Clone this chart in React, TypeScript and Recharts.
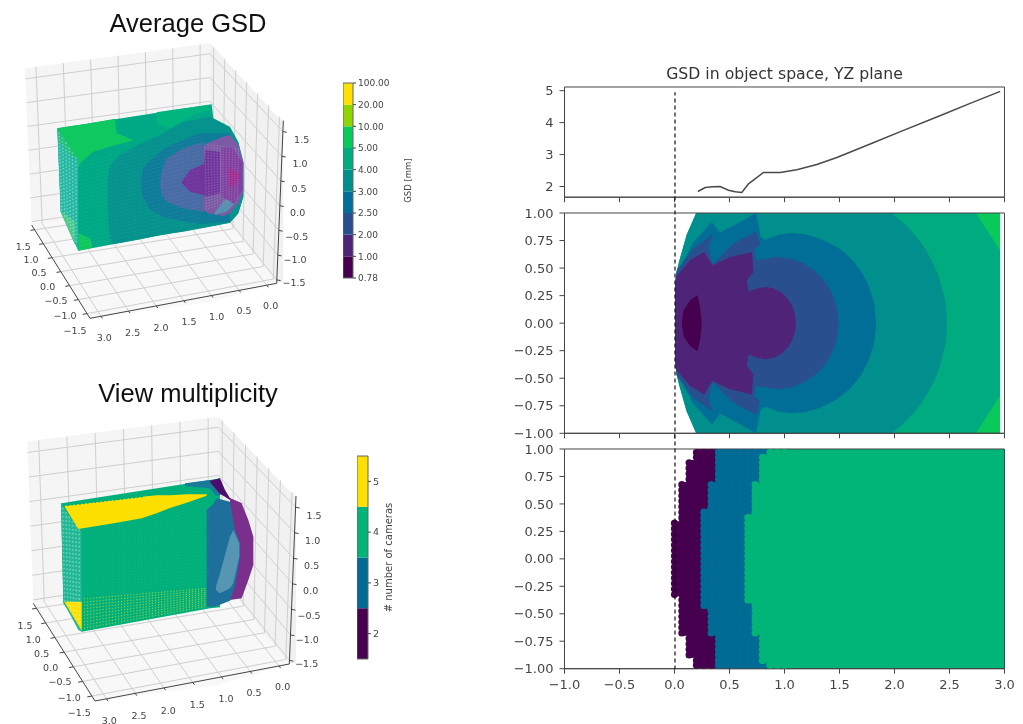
import React from "react";
import { ComposedChart, Area, Line, Scatter, XAxis, YAxis, ReferenceArea } from "recharts";

type Chain = number[][];
const MONO = "'DejaVu Sans', sans-serif";
const AX = "#444444";

// ---------- Right column data ----------
const panelXTicks = [-1, -0.5, 0, 0.5, 1, 1.5, 2, 2.5, 3];
const panelYTicks = [-1, -0.75, -0.5, -0.25, 0, 0.25, 0.5, 0.75, 1];
const profileTicks = [2, 3, 4, 5];
const profileX = [0.212, 0.279, 0.348, 0.415, 0.491, 0.552, 0.612, 0.673, 0.809, 0.961, 1.112, 1.294, 1.476, 1.779, 2.082, 2.385, 2.688, 2.961];
const profileY = [1.843, 1.969, 1.99, 2.0, 1.885, 1.833, 1.812, 2.084, 2.439, 2.439, 2.523, 2.69, 2.909, 3.33, 3.756, 4.174, 4.603, 4.979];

const C = {
  lime: "#0ac95c",
  g45: "#00ab7f",
  g34: "#008f8c",
  b253: "#006e96",
  b225: "#2a4f8e",
  p12: "#4f2378",
  dark: "#46004f",
};
// contour regions, outermost first: [x, |y| of the boundary]
const contourLime = [[2.7, 1], [2.96, 1]];
const contour45 = [[0.006, 0.33], [0.015, 0.45], [0.045, 0.57], [0.11, 0.8], [0.197, 1], [2.74, 1], [2.96, 0.66]];
const contour34 = [[0.006, 0.33], [0.015, 0.45], [0.045, 0.57], [0.11, 0.8], [0.197, 1], [1.976, 1], [2.088, 0.906], [2.173, 0.816], [2.245, 0.725], [2.303, 0.634], [2.352, 0.544], [2.391, 0.453], [2.421, 0.363], [2.445, 0.272], [2.464, 0.181], [2.473, 0.091], [2.476, 0]];
const contour253 = [[0.01, 0.4], [0.021, 0.45], [0.173, 0.737], [0.339, 0.918], [0.415, 0.822], [0.567, 0.903], [0.742, 1], [0.785, 0.782], [0.824, 0.758], [0.95, 0.805], [1.067, 0.819], [1.188, 0.808], [1.324, 0.767], [1.43, 0.716], [1.506, 0.671], [1.582, 0.607], [1.627, 0.559], [1.688, 0.48], [1.718, 0.432], [1.764, 0.341], [1.809, 0.205], [1.821, 0.145], [1.833, 0]];
const contour225 = [[0.01, 0.4], [0.021, 0.48], [0.173, 0.677], [0.348, 0.807], [0.309, 0.692], [0.345, 0.535], [0.536, 0.722], [0.742, 0.834], [0.779, 0.713], [0.727, 0.668], [0.742, 0.571], [0.93, 0.601], [1.052, 0.587], [1.173, 0.542], [1.264, 0.483], [1.324, 0.428], [1.385, 0.352], [1.43, 0.272], [1.461, 0.195], [1.482, 0.108], [1.491, 0]];
const contour12 = [[0.006, 0.33], [0.015, 0.42], [0.142, 0.571], [0.27, 0.647], [0.345, 0.526], [0.506, 0.601], [0.703, 0.647], [0.718, 0.465], [0.658, 0.39], [0.673, 0.284], [0.74, 0.312], [0.824, 0.329], [0.9, 0.317], [0.976, 0.276], [1.036, 0.214], [1.073, 0.149], [1.094, 0.083], [1.103, 0]];
const contourDark = [[0.067, 0], [0.082, 0.118], [0.142, 0.208], [0.209, 0.254], [0.233, 0.148], [0.248, 0]];
const contourLayers: [number[][], string][] = [
  [contourLime, C.lime], [contour45, C.g45], [contour34, C.g34], [contour253, C.b253],
  [contour225, C.b225], [contour12, C.p12], [contourDark, C.dark],
];

// view-count panel: starting x of the sample columns per |y| band: [|y| upper limit, x start]
const gridStepX = 0.0667;
const gridRowY = [0.025, 0.075, 0.125, 0.175, 0.225, 0.275, 0.325, 0.375, 0.425, 0.475, 0.525, 0.575, 0.625, 0.675, 0.725, 0.775, 0.825, 0.875, 0.925, 0.968];
const purpleStart = [[0.34, 0], [0.7, 0.067], [0.9, 0.133], [1, 0.2]];
const blueStart = [[0.47, 0.267], [0.7, 0.333], [1, 0.4]];
const greenStart = [[0.41, 0.667], [0.685, 0.733], [0.95, 0.8], [1, 0.867]];
const PURPLE = "#46004f", BLUE = "#006b94", GREEN = "#00b577";

const startAt = (tbl: number[][], y: number) => (tbl.find((r) => y <= r[0]) as number[])[1];
const cells = (from: number[][], to: number[][] | null) => {
  const out: { x: number; y: number }[] = [];
  for (const r of gridRowY) for (const s of [1, -1]) {
    const a = startAt(from, r), b = to ? startAt(to, r) : 1.05;
    for (let x = a; x < b - 0.001; x += gridStepX) out.push({ x, y: s * r });
  }
  return out;
};
const backing = (tbl: number[][]) => {
  const out: { x: number; band: number[] }[] = [];
  tbl.forEach((r, i) => {
    const lim = Math.min(r[0], 1);
    if (i > 0) out.push({ x: r[1], band: [-tbl[i - 1][0], tbl[i - 1][0]] });
    out.push({ x: r[1], band: [-lim, lim] });
  });
  out.push({ x: 3, band: [-1, 1] });
  return out;
};

// ---------- 3D views (image-plane coordinates, 3 units per pixel) ----------
const aLim = [-0.18, 3.2], bLim = [-1.67, 1.67], zLim = [-1.57, 1.72];
const aTicks = [0, 0.5, 1, 1.5, 2, 2.5, 3];
const bTicks = [-1.5, -1, -0.5, 0, 0.5, 1, 1.5];
const zTicks = [-1.5, -1, -0.5, 0, 0.5, 1, 1.5];
const tickTxt = (v: number) => (v < 0 ? "\u2212" : "") + Math.abs(v).toFixed(1);

const corners1 = { a1b0z0: [270, 955], a0b0z0: [830, 850], a1b1z0: [95, 675], a0b1z0: [628, 598], a1b0z1: [280, 445], a0b0z1: [850, 362], a1b1z1: [75, 205], a0b1z1: [630, 130] };
const corners2 = { a1b0z0: [285, 993], a0b0z0: [868, 882], a1b1z0: [100, 700], a0b1z0: [655, 615], a1b0z1: [300, 462], a0b0z1: [888, 378], a1b1z1: [82, 215], a0b1z1: [655, 140] };

const labels1a = [[313, 1013], [398, 997], [483, 982], [567, 965], [650, 948], [732, 932], [812, 915]];
const labels1b = [[70, 738], [93, 778], [117, 818], [143, 858], [168, 900], [195, 945], [225, 990]];
const labels1z = [[905, 418], [900, 490], [897, 565], [893, 637], [890, 708], [885, 778], [882, 848]];
const labels2a = [[328, 1050], [417, 1035], [505, 1020], [592, 1002], [678, 985], [762, 968], [848, 950]];
const labels2b = [[75, 765], [100, 808], [125, 850], [152, 892], [180, 935], [208, 982], [238, 1028]];
const labels2z = [[942, 435], [938, 510], [935, 587], [932, 660], [927, 735], [922, 808], [920, 880]];
const aLabelVals = [3, 2.5, 2, 1.5, 1, 0.5, 0];
const bLabelVals = [1.5, 1, 0.5, 0, -0.5, -1, -1.5];
const zLabelVals = [1.5, 1, 0.5, 0, -0.5, -1, -1.5];

type Layer = { c: string; o?: number; chain: Chain };

const layers1: Layer[] = [
  { c: "#00a985", chain: [[172, 385, 385], [182, 383, 632], [235, 375, 752], [635, 313, 677], [640, 355, 677], [690, 380, 668], [715, 425, 640], [730, 485, 590]] },
  { c: "#10c860", chain: [[172, 385, 385], [230, 376, 510], [245, 374, 485], [280, 368, 455], [345, 356, 436], [350, 400, 435], [400, 420, 420]] },
  { c: "#10c860", chain: [[235, 700, 752], [270, 715, 745], [276, 735, 744]] },
  { c: "#22b8a2", chain: [[172, 385, 385], [182, 397, 632], [235, 477, 752]] },
  { c: "#20c078", chain: [[172, 385, 385], [178, 393, 425], [225, 462, 480]] },
  { c: "#48c98c", chain: [[180, 630, 632], [225, 665, 735]] },
  { c: "#00b57e", chain: [[470, 337, 370], [510, 331, 385], [580, 321, 345], [625, 315, 330]] },
  { c: "#06938e", chain: [[322, 560, 560], [326, 510, 680], [335, 490, 733], [360, 465, 729], [420, 432, 718], [480, 405, 705], [550, 365, 695], [630, 350, 680], [690, 385, 668], [715, 430, 640], [730, 490, 590]] },
  { c: "#0f7d9a", chain: [[422, 550, 550], [428, 510, 590], [450, 480, 630], [500, 440, 655], [560, 415, 665], [600, 400, 672], [690, 400, 665]] },
  { c: "#4a6ca6", chain: [[480, 555, 555], [485, 515, 585], [500, 475, 605], [550, 445, 625], [610, 425, 637]] },
  { c: "#7c5aa6", chain: [[610, 440, 630], [625, 428, 640], [670, 410, 648], [690, 405, 640], [715, 435, 610], [730, 485, 575]] },
  { c: "#5a90b0", chain: [[645, 635, 645], [680, 595, 635], [700, 590, 615]] },
  { c: "#70369c", chain: [[545, 545, 548], [570, 510, 575], [612, 492, 585], [616, 450, 590], [660, 455, 580]] },
  { c: "#8040a0", chain: [[665, 440, 590], [700, 445, 610], [728, 490, 570]] },
  { c: "#9e2c90", chain: [[685, 520, 530], [690, 500, 560], [700, 508, 563], [720, 525, 530]] },
];
const layers2: Layer[] = [
  { c: "#00b07a", chain: [[183, 400, 400], [190, 399, 700], [245, 390, 785], [630, 330, 715], [660, 325, 712]] },
  { c: "#22b896", chain: [[183, 400, 400], [190, 411, 695], [235, 477, 780], [245, 482, 785]] },
  { c: "#fde000", chain: [[193, 407, 409], [235, 402, 477], [350, 389, 458], [425, 380, 445], [470, 376, 430], [510, 376, 414], [560, 373, 398], [620, 373, 377]] },
  { c: "#fde000", chain: [[193, 695, 695], [245, 695, 782]] },
  { c: "#1a7a9a", chain: [[555, 340, 348], [630, 330, 355], [648, 350, 378], [662, 372, 374]] },
  { c: "#4b0e6d", chain: [[630, 332, 336], [660, 325, 372], [675, 360, 380], [690, 385, 390], [725, 400, 410]] },
  { c: "#7a2f8c", chain: [[690, 385, 690], [725, 400, 685], [745, 450, 630], [760, 500, 585]] },
  { c: "#1f6f9c", chain: [[620, 420, 710], [640, 402, 710], [650, 385, 708], [690, 395, 692], [705, 480, 650], [720, 520, 560]] },
  { c: "#5696b2", chain: [[648, 650, 660], [660, 610, 670], [690, 500, 655], [700, 480, 640], [718, 520, 560]] },
];
const leftU = [0.08, 0.24, 0.4, 0.56, 0.72, 0.88];
const faceV = [0.03, 0.07, 0.11, 0.15, 0.19, 0.23, 0.27, 0.31, 0.35, 0.39, 0.43, 0.47, 0.51, 0.55, 0.59, 0.63, 0.67, 0.71, 0.75, 0.79, 0.83, 0.87, 0.91, 0.95];
const capU = [0.04, 0.12, 0.2, 0.28, 0.36, 0.44, 0.52, 0.6, 0.68, 0.76, 0.84, 0.92];
const longU = [0.01, 0.035, 0.06, 0.085, 0.11, 0.135, 0.16, 0.185, 0.21, 0.235, 0.26, 0.285, 0.31, 0.335, 0.36, 0.385, 0.41, 0.435, 0.46, 0.485, 0.51, 0.535, 0.56, 0.585, 0.61, 0.635, 0.66, 0.685, 0.71, 0.735, 0.76, 0.785, 0.81, 0.835, 0.86, 0.885, 0.91, 0.935, 0.96, 0.985];
const speckV = [0.05, 0.15, 0.25, 0.35, 0.45, 0.55, 0.65, 0.75, 0.85, 0.95];
const toothU = [0, 0.05, 0.1, 0.15, 0.2, 0.25, 0.3, 0.35, 0.4, 0.45, 0.5, 0.55, 0.6, 0.65, 0.7, 0.75, 0.8, 0.85, 0.9, 0.95, 1];
const leftFace1 = [[172, 385], [235, 477], [235, 752], [182, 632]];
const leftFace2 = [[183, 400], [245, 482], [245, 785], [190, 700]];
const speckFace2 = [[250, 682], [620, 652], [620, 712], [250, 780]];
const capFace1 = [[610, 425], [725, 445], [720, 600], [615, 640]];
const frontFace1 = [[240, 480], [600, 400], [600, 680], [240, 750]];
const frontFace2 = [[250, 485], [630, 385], [630, 650], [250, 680]];
const toothRow = [[193, 405], [425, 378], [425, 378], [193, 405]];

const onFace = (f: number[][], us: number[], vs: number[]) => {
  const out: { x: number; y: number }[] = [];
  for (const u of us) for (const v of vs) {
    const tx = f[0][0] + (f[1][0] - f[0][0]) * u, ty = f[0][1] + (f[1][1] - f[0][1]) * u;
    const bx = f[3][0] + (f[2][0] - f[3][0]) * u, by = f[3][1] + (f[2][1] - f[3][1]) * u;
    out.push({ x: tx + (bx - tx) * v, y: ty + (by - ty) * v });
  }
  return out;
};

function View3D({ top, h, corners, layers, la, lb, lz, title, titleY, extras }: any) {
  const P = (a: number, b: number, z: number) => {
    const ta = (a - aLim[0]) / (aLim[1] - aLim[0]), tb = (b - bLim[0]) / (bLim[1] - bLim[0]), tz = (z - zLim[0]) / (zLim[1] - zLim[0]);
    const mix = (i: number) => {
      const low = (zk: string) => {
        const front = corners["a0b0" + zk][i] * (1 - ta) + corners["a1b0" + zk][i] * ta;
        const back = corners["a0b1" + zk][i] * (1 - ta) + corners["a1b1" + zk][i] * ta;
        return front * (1 - tb) + back * tb;
      };
      return low("z0") * (1 - tz) + low("z1") * tz;
    };
    return { x: mix(0), y: mix(1) };
  };
  const seg = (list: { x: number; y: number }[][]) => {
    const out: any[] = [];
    list.forEach((s) => { out.push(...s); out.push({ x: s[s.length - 1].x, y: null }); });
    return out;
  };
  const [a0, a1] = aLim, [b0, b1] = bLim, [z0, z1] = zLim;
  const grid = seg([
    ...aTicks.map((a) => [P(a, b0, z0), P(a, b1, z0), P(a, b1, z1)]),
    ...bTicks.map((b) => [P(a1, b, z0), P(a0, b, z0), P(a0, b, z1)]),
    ...zTicks.map((z) => [P(a1, b1, z), P(a0, b1, z), P(a0, b0, z)]),
  ]);
  const axisLines = seg([
    [P(a1, b1, z0), P(a1, b0, z0), P(a0, b0, z0), P(a0, b0, z1)],
    ...aTicks.map((a) => [P(a, b0, z0), P(a, b0 - 0.08, z0)]),
    ...bTicks.map((b) => [P(a1, b, z0), P(a1 + 0.08, b, z0)]),
    ...zTicks.map((z) => [P(a0, b0, z), P(a0 - 0.05, b0 - 0.05, z)]),
  ]);
  const pLeft = [[corners.a1b1z1[0], corners.a1b1z1[1], corners.a1b1z1[1]], [corners.a1b1z0[0], corners.a1b1z1[1] - 3, corners.a1b1z0[1]], [corners.a0b1z1[0], corners.a0b1z1[1], corners.a0b1z0[1]]];
  const pRight = [[corners.a0b1z1[0], corners.a0b1z1[1], corners.a0b1z0[1]], [corners.a0b0z0[0], corners.a0b0z1[1] - 15, corners.a0b0z0[1]], [corners.a0b0z1[0], corners.a0b0z1[1], corners.a0b0z0[1] - 3]];
  const pFloor = [[corners.a1b1z0[0], corners.a1b1z0[1], corners.a1b1z0[1]], [corners.a1b0z0[0], corners.a1b1z0[1] - 30, corners.a1b0z0[1]], [corners.a0b1z0[0], corners.a0b1z0[1], corners.a1b0z0[1] - 48], [corners.a0b0z0[0], corners.a0b0z0[1], corners.a0b0z0[1]]];
  const texts = [
    ...la.map((p: number[], i: number) => ({ x: p[0], y: p[1], label: tickTxt(aLabelVals[i]) })),
    ...lb.map((p: number[], i: number) => ({ x: p[0], y: p[1], label: tickTxt(bLabelVals[i]) })),
    ...lz.map((p: number[], i: number) => ({ x: p[0], y: p[1], label: tickTxt(zLabelVals[i]) })),
  ];
  const toArea = (c: Chain) => c.map((r) => ({ x: r[0], band: [r[1], r[2]] }));
  const axes = [
    <XAxis key="x" hide type="number" dataKey="x" domain={[0, 1260]} />,
    <YAxis key="y" hide type="number" dataKey="y" domain={[0, h * 3]} reversed />,
  ];
  const margin = { top: 0, left: 0, right: 0, bottom: 0 };
  return (
    <div style={{ position: "absolute", left: 0, top, width: 420, height: h }}>
      <div style={{ position: "absolute", left: 0, top: 0 }}>
        <ComposedChart width={420} height={h} margin={margin}>
          {axes}
          {[pLeft, pRight, pFloor].map((c, i) => (
            <Area key={"pane" + i} data={toArea(c)} dataKey="band" type="linear" fill={["#f5f5f5", "#f1f1f1", "#f8f8f8"][i]} fillOpacity={1} stroke="none" dot={false} activeDot={false} isAnimationActive={false} />
          ))}
          <Line data={grid} dataKey="y" type="linear" stroke="#cfcfcf" strokeWidth={1} dot={false} activeDot={false} isAnimationActive={false} />
          <Line data={axisLines} dataKey="y" type="linear" stroke={AX} strokeWidth={1} dot={false} activeDot={false} isAnimationActive={false} />
        </ComposedChart>
      </div>
      <div style={{ position: "absolute", left: 0, top: 0 }}>
        <ComposedChart width={420} height={h} margin={margin}>
          {axes}
          {layers.map((l: Layer, i: number) => (
            <Area key={"l" + i} data={toArea(l.chain)} dataKey="band" type="linear" fill={l.c} fillOpacity={l.o ?? 1} stroke="none" dot={false} activeDot={false} isAnimationActive={false} />
          ))}
          {extras.map((e: any, i: number) => (
            <Scatter key={"e" + i} data={e.pts} dataKey="y" isAnimationActive={false}
              shape={(p: any) => <circle cx={p.cx} cy={p.cy} r={e.r} fill={e.c} fillOpacity={e.o} />} />
          ))}
          <Scatter data={texts} dataKey="y" isAnimationActive={false}
            shape={(p: any) => <text x={p.cx} y={p.cy} textAnchor="middle" dominantBaseline="central" fontFamily={MONO} fontSize={9.5} fill="#444">{p.payload.label}</text>} />
          <Scatter data={[{ x: 564, y: titleY, label: title }]} dataKey="y" isAnimationActive={false}
            shape={(p: any) => <text x={p.cx} y={p.cy} textAnchor="middle" fontFamily="'Liberation Sans', Arial, sans-serif" fontSize={25.5} fill="#111">{p.payload.label}</text>} />
        </ComposedChart>
      </div>
    </div>
  );
}

// ---------- colour bars ----------
const gsdBarColors = ["#46004f", "#4f2378", "#2a4f8e", "#006e96", "#008f8c", "#00ab7f", "#0ac95c", "#8fd600", "#fde000"];
const gsdBarLabels = ["0.78", "1.00", "2.00", "2.50", "3.00", "4.00", "5.00", "10.00", "20.00", "100.00"];
const gsdBarTicks = [0, 1, 2, 3, 4, 5, 6, 7, 8, 9];
const camBarColors = ["#46004f", "#006b94", "#00b577", "#fde000"];
const camBarLabels = ["2", "3", "4", "5"];
const camBarTicks = [0.5, 1.5, 2.5, 3.5];

function ColorBar({ left, top, w, h, colors, ticks, fmt, title, titleDx, fs, tfs }: any) {
  const n = colors.length;
  return (
    <div style={{ position: "absolute", left, top: top - 6 }}>
      <ComposedChart width={w + 70} height={h + 12} margin={{ top: 6, left: 0, right: 0, bottom: 6 }}>
        <XAxis hide type="number" dataKey="x" domain={[0, 1]} />
        <YAxis orientation="right" type="number" width={70} domain={[0, n]} ticks={ticks} interval={0}
          tick={{ fontFamily: MONO, fontSize: fs, fill: "#444" }} tickSize={3} tickMargin={2}
          tickFormatter={fmt} axisLine={false} stroke={AX}
          label={{ value: title, angle: -90, position: "insideRight", dx: titleDx, style: { fontFamily: MONO, fontSize: tfs, fill: "#444", textAnchor: "middle" } }} />
        {colors.map((c: string, i: number) => (
          <Area key={i} data={[{ x: 0, band: [i, i + 1] }, { x: 1, band: [i, i + 1] }]} dataKey="band" type="linear" fill={c} fillOpacity={1} stroke="none" dot={false} activeDot={false} isAnimationActive={false} />
        ))}
        <ReferenceArea x1={0} x2={1} y1={0} y2={n} fill="none" stroke="#666" strokeWidth={1} ifOverflow="visible" />
      </ComposedChart>
    </div>
  );
}

// ---------- right column panels ----------
const fmt1 = (v: number) => (v < 0 ? "\u2212" : "") + Math.abs(v).toFixed(1);
const fmt2 = (v: number) => (v < 0 ? "\u2212" : "") + Math.abs(v).toFixed(2);
const tickStyle = { fontFamily: MONO, fontSize: 13, fill: "#444" };

function Panel({ top, h, domain, yTicks, yFmt, xLabels, children }: any) {
  const xH = xLabels ? 30 : 6;
  return (
    <div style={{ position: "absolute", left: 500, top: top - 8 }}>
      <ComposedChart width={523} height={h + 8 + xH + 10} margin={{ top: 8, left: 0, right: 18.5, bottom: 10 }}>
        <XAxis type="number" dataKey="x" domain={[-1, 3]} ticks={panelXTicks} interval={0} height={xH}
          tick={tickStyle} tickSize={5} tickMargin={xLabels ? 6 : 0} stroke={AX}
          tickFormatter={xLabels ? fmt1 : () => ""} allowDataOverflow />
        <YAxis type="number" dataKey="y" width={64.5} domain={domain} ticks={yTicks} interval={0}
          tick={tickStyle} tickSize={5} tickMargin={6} stroke={AX} tickFormatter={yFmt} allowDataOverflow />
        {children}
        <ReferenceArea x1={-1} x2={3} y1={domain[0]} y2={domain[1]} fill="none" stroke={AX} strokeWidth={1} ifOverflow="visible" />
      </ComposedChart>
    </div>
  );
}

const profileData = profileX.map((x, i) => ({ x, y: profileY[i] }));
const dashData = [{ x: 0, y: 0 }, { x: 0, y: 0.991 }];
const circle = (r: number, c: string) => (p: any) => <circle cx={p.cx} cy={p.cy} r={r} fill={c} />;
const solid = (data: any[], fill: string, key: string) => (
  <Area key={key} data={data} dataKey="band" type="linear" fill={fill} fillOpacity={1} stroke="none" dot={false} activeDot={false} isAnimationActive={false} />
);

export default function App() {
  return (
    <div style={{ position: "absolute", left: 0, top: 0, width: 1023, height: 724, overflow: "hidden", background: "#fff", filter: "blur(0.6px)" }}>
      <View3D top={0} h={360} corners={corners1} layers={layers1} la={labels1a} lb={labels1b} lz={labels1z} title="Average GSD" titleY={95}
        extras={[
          { pts: onFace(leftFace1, leftU, faceV), r: 0.9, c: "#ffffff", o: 0.35 },
          { pts: onFace(frontFace1, longU, faceV), r: 0.6, c: "#ffffff", o: 0.1 },
          { pts: onFace(capFace1, capU, faceV), r: 0.8, c: "#ffffff", o: 0.18 },
        ]} />
      <View3D top={370} h={354} corners={corners2} layers={layers2} la={labels2a} lb={labels2b} lz={labels2z} title="View multiplicity" titleY={97}
        extras={[
          { pts: onFace(leftFace2, leftU, faceV), r: 0.9, c: "#ffffff", o: 0.35 },
          { pts: onFace(frontFace2, longU, faceV), r: 0.6, c: "#ffffff", o: 0.08 },
          { pts: onFace(speckFace2, longU, speckV), r: 0.7, c: "#d8e030", o: 0.65 },
          { pts: onFace(toothRow, toothU, [0]), r: 1.5, c: "#00b07a", o: 1 },
        ]} />
      <ColorBar left={343} top={83} w={10} h={195} colors={gsdBarColors} ticks={gsdBarTicks} fmt={(v: number) => gsdBarLabels[v]} title="GSD [mm]" titleDx={-10} fs={9} tfs={8.5} />
      <ColorBar left={357} top={456} w={11} h={203} colors={camBarColors} ticks={camBarTicks} fmt={(v: number) => camBarLabels[Math.floor(v)]} title="# number of cameras" titleDx={-45} fs={9.5} tfs={10} />

      <div style={{ position: "absolute", left: 564.5, width: 440, top: 64, textAlign: "center", fontFamily: MONO, fontSize: 15.7, color: "#333" }}>GSD in object space, YZ plane</div>

      <Panel top={86.5} h={110.2} domain={[1.665, 5.115]} yTicks={profileTicks} yFmt={(v: number) => String(v)}>
        <Line data={profileData} dataKey="y" type="linear" stroke="#4a4a4a" strokeWidth={1.5} dot={false} activeDot={false} isAnimationActive={false} />
      </Panel>

      <Panel top={212.7} h={220.3} domain={[-1, 1]} yTicks={panelYTicks} yFmt={fmt2}>
        {contourLayers.map(([pts, col], i) => solid(pts.map((r) => ({ x: r[0], band: [-r[1], r[1]] })), col, "c" + i))}
      </Panel>

      <Panel top={449.3} h={219.7} domain={[-1, 1]} yTicks={panelYTicks} yFmt={fmt2} xLabels>
        {solid(backing(purpleStart), PURPLE, "bp")}
        {solid(backing(blueStart), BLUE, "bb")}
        {solid(backing(greenStart), GREEN, "bg")}
        <Scatter data={cells(purpleStart, blueStart)} dataKey="y" shape={circle(3.6, PURPLE)} isAnimationActive={false} />
        <Scatter data={cells(blueStart, greenStart)} dataKey="y" shape={circle(3.6, BLUE)} isAnimationActive={false} />
        <Scatter data={cells(greenStart, null)} dataKey="y" shape={circle(3.6, GREEN)} isAnimationActive={false} />
      </Panel>

      <div style={{ position: "absolute", left: 564.5, top: 86.5 }}>
        <ComposedChart width={440} height={582.5} margin={{ top: 0, left: 0, right: 0, bottom: 0 }}>
          <XAxis hide type="number" dataKey="x" domain={[-1, 3]} />
          <YAxis hide type="number" dataKey="y" domain={[0, 1]} />
          <Line data={dashData} dataKey="y" type="linear" stroke="#111" strokeWidth={1.2} strokeDasharray="4 3" dot={false} activeDot={false} isAnimationActive={false} />
        </ComposedChart>
      </div>
    </div>
  );
}
